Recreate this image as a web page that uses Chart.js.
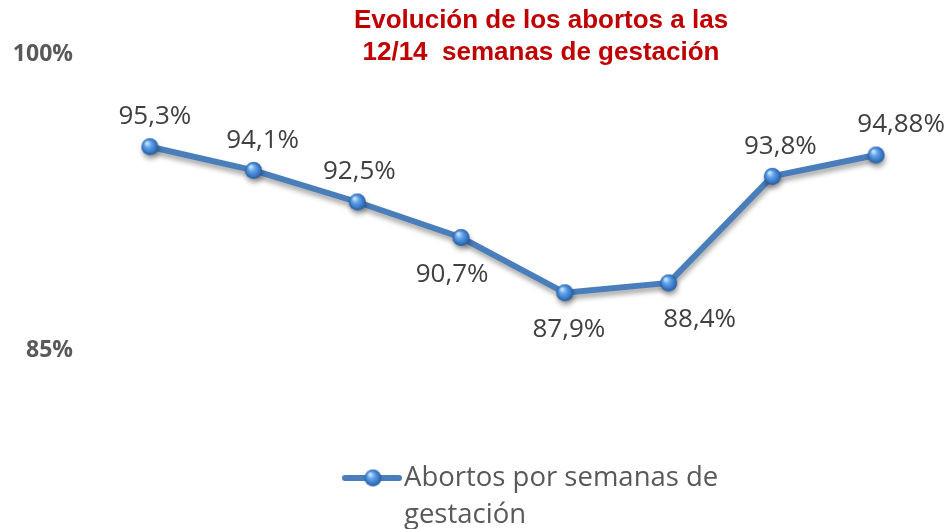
<!DOCTYPE html>
<html><head><meta charset="utf-8">
<script src="https://cdn.jsdelivr.net/npm/chart.js@4.4.1/dist/chart.umd.min.js"></script>
<style>html,body{margin:0;padding:0;background:#fff;}#wrap{width:950px;height:529px;}</style>
</head><body><div id="wrap"><canvas id="c" width="950" height="529"></canvas></div>
<script>
const categories = ['1', '2', '3', '4', '5', '6', '7', '8'];
const values = [95.3, 94.1, 92.5, 90.7, 87.9, 88.4, 93.8, 94.88];
const seriesName = 'Abortos por semanas de gestación';
const titleLines = ['Evolución de los abortos a las', '12/14  semanas de gestación'];
const yTicks = [85, 100];
const labelPlacement = ['above','above','above','below','below','below','above','above'];
const labelShift = [5, 9, 2, -9, 4, 31, 8, 25];

function sphere(r) {
  const c = document.createElement('canvas');
  const s = Math.ceil(r * 2 + 2);
  c.width = s; c.height = s;
  const g = c.getContext('2d');
  const cx = s / 2, cy = s / 2;
  const grad = g.createRadialGradient(cx - r * 0.35, cy - r * 0.45, r * 0.1, cx, cy, r);
  grad.addColorStop(0, '#c4e2ff');
  grad.addColorStop(0.35, '#62a3ea');
  grad.addColorStop(0.8, '#3473c0');
  grad.addColorStop(1, '#22589c');
  g.fillStyle = grad;
  g.beginPath(); g.arc(cx, cy, r, 0, Math.PI * 2); g.fill();
  return c;
}
const ball = sphere(8.5);

const shadowPlugin = {
  id: 'shadow',
  beforeDatasetDraw(chart) {
    const ctx = chart.ctx; ctx.save();
    ctx.shadowColor = 'rgba(0,0,0,0.35)'; ctx.shadowBlur = 5; ctx.shadowOffsetY = 4; ctx.shadowOffsetX = 1;
  },
  afterDatasetDraw(chart) { chart.ctx.restore(); }
};

const textPlugin = {
  id: 'texts',
  afterDraw(chart) {
    const ctx = chart.ctx;
    ctx.save();
    // title
    ctx.fillStyle = '#c00000';
    ctx.font = 'bold 26px "Liberation Sans", Arial, sans-serif';
    ctx.textAlign = 'center'; ctx.textBaseline = 'middle';
    titleLines.forEach((t, i) => ctx.fillText(t, 541, 21 + i * 32));
    // data labels
    const meta = chart.getDatasetMeta(0);
    ctx.fillStyle = '#404040';
    ctx.font = '26px "Open Sans", sans-serif';
    meta.data.forEach((pt, i) => {
      const v = values[i];
      const txt = String(v).replace('.', ',') + '%';
      const dy = labelPlacement[i] === 'above' ? -30 : 37;
      ctx.fillText(txt, pt.x + labelShift[i], pt.y + dy);
    });
    // legend
    const ly = 478;
    ctx.strokeStyle = '#4a7ebb'; ctx.lineWidth = 6; ctx.lineCap = 'round';
    ctx.beginPath(); ctx.moveTo(345, ly); ctx.lineTo(399, ly); ctx.stroke();
    ctx.drawImage(ball, 373 - ball.width / 2, ly - ball.height / 2);
    ctx.fillStyle = '#595959';
    ctx.font = '27.5px "Open Sans", sans-serif';
    ctx.textAlign = 'left';
    const words = seriesName.split(' ');
    ctx.fillText(words.slice(0, 4).join(' '), 404, ly);
    ctx.fillText(words.slice(4).join(' '), 404, ly + 37);
    ctx.restore();
  }
};

new Chart(document.getElementById('c'), {
  type: 'line',
  data: {
    labels: categories,
    datasets: [{
      label: seriesName,
      data: values,
      borderColor: '#4a7ebb',
      borderWidth: 6,
      tension: 0,
      pointStyle: ball,
      pointRadius: 8.5,
      pointHoverRadius: 8.5
    }]
  },
  options: {
    responsive: false,
    animation: false,
    events: [],
    layout: { padding: { top: 54, bottom: 179, right: 22, left: 0 } },
    plugins: { legend: { display: false }, title: { display: false }, tooltip: { enabled: false } },
    scales: {
      x: { type: 'category', offset: true, display: false },
      y: {
        min: 85, max: 100,
        afterFit(s) { s.width = 98; },
        afterBuildTicks(s) { s.ticks = yTicks.map(v => ({ value: v })); },
        grid: { display: false, drawTicks: false },
        border: { display: false },
        ticks: {
          padding: 25,
          color: '#595959',
          font: { family: '"Open Sans", sans-serif', size: 23, weight: 'bold' },
          callback: v => v + '%'
        }
      }
    }
  },
  plugins: [shadowPlugin, textPlugin]
});
</script></body></html>
